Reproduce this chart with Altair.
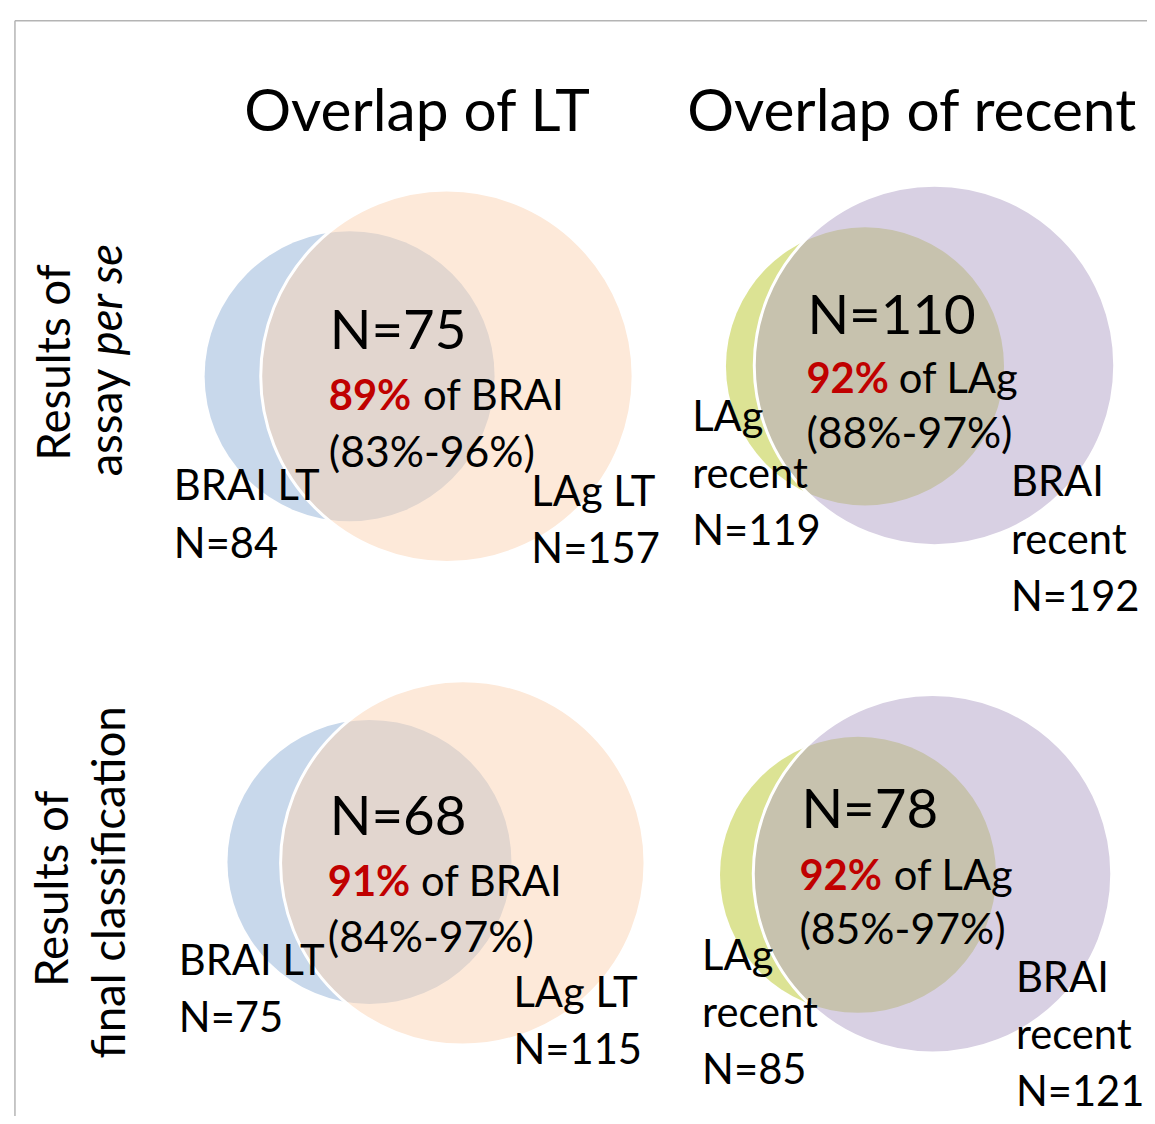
import pandas as pd
import altair as alt

# ---------------- data ----------------
col_titles = ["Overlap of LT", "Overlap of recent"]
row_line1 = ["Results of", "Results of"]
row_line2_plain = ["assay", "final classification"]
row_line2_italic = ["per se", ""]

overlap_n = [75, 110, 68, 78]
overlap_pct = ["89%", "92%", "91%", "92%"]
overlap_of = ["of BRAI", "of LAg", "of BRAI", "of LAg"]
overlap_ci = ["(83%-96%)", "(88%-97%)", "(84%-97%)", "(85%-97%)"]

small_set_name = ["BRAI LT", "LAg\nrecent", "BRAI LT", "LAg\nrecent"]
small_set_n = [84, 119, 75, 85]
big_set_name = ["LAg LT", "BRAI\nrecent", "LAg LT", "BRAI\nrecent"]
big_set_n = [157, 192, 115, 121]

# ---------------- layout (pixel coordinates in the page) ----------------
W, H = 1155, 1124
M = 8
small_cx = [352, 871, 372, 864]
small_cy = [375, 365, 864, 877]
small_r = [146, 140, 143, 139]
big_cx = [450, 941, 466, 939]
big_cy = [375, 364, 865, 876]
big_r = [187.5, 181.5, 183.5, 180.5]
small_fill = ["#c8d8eb", "#dce394", "#c8d8eb", "#dce394"]
big_fill = ["#fbd4b4", "#b2a2c7", "#fbd4b4", "#b2a2c7"]

n_xy = [(332, 348), (813, 332), (332, 837), (807, 830)]
pct_xy = [(331, 409), (812, 392), (330, 898), (805, 892)]
of_xy = [(426, 409), (905, 392), (424, 898), (900, 892)]
ci_xy = [(331, 466), (812, 447), (330, 955), (805, 947)]
small_lab_xy = [(175, 500), (697, 430), (180, 978), (707, 973)]
big_lab_xy = [(535, 506), (1018, 496), (517, 1010), (1023, 995)]
title_xy = [(246, 128), (692, 128)]

FONT = "Lato"

xs = alt.Scale(domain=[M, W - M], nice=False, zero=False)
ys = alt.Scale(domain=[H - M, M], nice=False, zero=False)

# border of the slide
border = pd.DataFrame({"x": [15, 15], "y": [17, 17], "x2": [W, 15], "y2": [17, H]})
border_layer = alt.Chart(border).mark_rule(color="#b4b4b4", strokeWidth=1.5).encode(
    x=alt.X("x:Q", scale=xs, axis=None),
    y=alt.Y("y:Q", scale=ys, axis=None),
    x2="x2:Q",
    y2="y2:Q",
)

# Vega's circle symbol has radius sqrt(size)/2
small = pd.DataFrame({
    "cx": small_cx, "cy": small_cy,
    "size": [(2 * r) ** 2 for r in small_r],
    "fill": small_fill,
})
big = pd.DataFrame({
    "cx": big_cx, "cy": big_cy,
    "size": [(2 * r) ** 2 for r in big_r],
    "fill": big_fill,
})

small_layer = alt.Chart(small).mark_point(filled=True, shape="circle", opacity=1, strokeWidth=0).encode(
    x=alt.X("cx:Q", scale=xs, axis=None),
    y=alt.Y("cy:Q", scale=ys, axis=None),
    size=alt.Size("size:Q", scale=None, legend=None),
    fill=alt.Fill("fill:N", scale=None, legend=None),
)
big_layer = alt.Chart(big).mark_point(
    filled=True, shape="circle", fillOpacity=0.5, stroke="white", strokeWidth=3, strokeOpacity=1
).encode(
    x=alt.X("cx:Q", scale=xs, axis=None),
    y=alt.Y("cy:Q", scale=ys, axis=None),
    size=alt.Size("size:Q", scale=None, legend=None),
    fill=alt.Fill("fill:N", scale=None, legend=None),
)

def text_df(texts, xy):
    return pd.DataFrame({"t": texts, "x": [p[0] for p in xy], "y": [p[1] for p in xy]})

def text_layer(df, size, color="black", weight="normal", style="normal", angle=0, line_height=None):
    kw = dict(font=FONT, fontSize=size, color=color, fontWeight=weight, fontStyle=style,
              align="left", baseline="alphabetic", angle=angle)
    if line_height is not None:
        kw["lineBreak"] = "\n"
        kw["lineHeight"] = line_height
    return alt.Chart(df).mark_text(**kw).encode(
        x=alt.X("x:Q", scale=xs, axis=None),
        y=alt.Y("y:Q", scale=ys, axis=None),
        text="t:N",
    )

titles = text_layer(text_df(col_titles, title_xy), 59)
n_text = text_layer(text_df([f"N={v}" for v in overlap_n], n_xy), 55)
pct_text = text_layer(text_df(overlap_pct, pct_xy), 42, color="#c00000", weight="bold")
of_text = text_layer(text_df(overlap_of, of_xy), 42)
ci_text = text_layer(text_df(overlap_ci, ci_xy), 43)
small_lab = text_layer(
    text_df([f"{a}\nN={b}" for a, b in zip(small_set_name, small_set_n)], small_lab_xy), 42, line_height=57.5)
big_lab = text_layer(
    text_df([f"{a}\nN={b}" for a, b in zip(big_set_name, big_set_n)], big_lab_xy), 42, line_height=57.5)

RS = 46
row1 = text_layer(text_df(row_line1, [(70, 460), (68, 990)]), RS, angle=270)
row2a = text_layer(text_df([row_line2_plain[0]], [(123, 476)]), RS, angle=270)
row2b = text_layer(text_df([row_line2_italic[0]], [(123, 354)]), RS, style="italic", angle=270)
row2c = text_layer(text_df([row_line2_plain[1]], [(126, 1062)]), RS, angle=270)

chart = alt.layer(
    border_layer, small_layer, big_layer,
    titles, n_text, pct_text, of_text, ci_text, small_lab, big_lab,
    row1, row2a, row2b, row2c,
).properties(
    width=W - 2 * M, height=H - 2 * M,
    autosize=alt.AutoSizeParams(type="none"),
    padding={"left": 0, "top": 0, "right": M, "bottom": 0},
).configure_view(stroke=None)

chart.save("out.html", embed_options={"renderer": "svg", "actions": False})
